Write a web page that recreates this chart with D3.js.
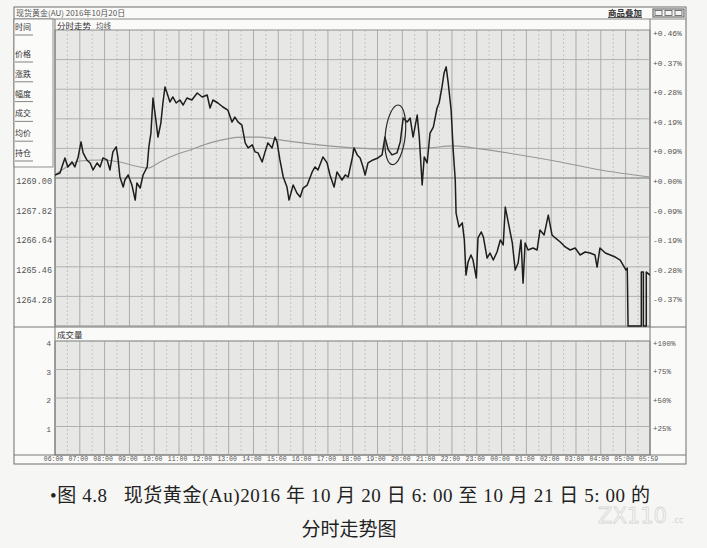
<!DOCTYPE html>
<html><head><meta charset="utf-8">
<script src="https://cdn.jsdelivr.net/npm/d3@7"></script>
<style>
body{margin:0;background:#f6f6f4;}
svg{display:block;}
</style></head><body>
<svg id="c" width="707" height="548"></svg>
<script>
// ---------- data ----------
// minutes elapsed since 06:00 on 2016-10-20
const minutes = [0,12,24,31,41,48,56,63,68,77,85,92,102,109,116,126,133,140,148,152,157,165,169,177,186,194,198,206,213,223,227,232,237,244,249,256,261,266,271,278,285,293,302,310,319,331,344,356,368,375,382,394,406,418,428,435,443,452,460,467,477,484,491,501,508,515,525,532,537,544,552,561,566,576,585,593,600,610,622,629,636,648,658,665,675,682,694,702,709,719,723,731,738,745,750,757,769,781,791,798,806,815,827,835,842,852,859,866,876,881,888,893,900,907,915,924,929,936,941,946,951,958,963,968,970,977,985,990,994,999,1006,1011,1019,1023,1031,1036,1045,1052,1060,1069,1077,1084,1089,1096,1106,1113,1120,1127,1132,1137,1144,1156,1166,1173,1183,1193,1202,1210,1222,1234,1246,1258,1270,1282,1294,1306,1311,1318,1331,1343,1355,1367,1374,1381,1384,1386,1418,1418,1423,1423,1430,1430,1439];
const prices = [1269.12,1269.20,1269.80,1269.44,1269.64,1269.44,1269.84,1270.44,1270.00,1269.72,1269.60,1269.32,1269.60,1269.44,1269.80,1269.72,1269.32,1270.04,1270.24,1269.84,1269.04,1268.64,1268.92,1269.12,1268.72,1268.12,1268.80,1268.60,1269.12,1269.44,1270.24,1270.79,1272.19,1271.31,1270.63,1271.19,1271.99,1272.63,1272.39,1272.03,1272.23,1271.99,1272.11,1271.91,1272.19,1272.11,1272.39,1272.23,1272.31,1271.79,1272.11,1271.99,1271.83,1271.71,1271.23,1271.43,1271.23,1271.11,1270.40,1270.20,1270.32,1270.04,1270.00,1269.64,1270.04,1270.40,1270.20,1270.63,1270.44,1269.72,1269.04,1268.64,1268.12,1268.72,1268.40,1268.24,1268.60,1268.72,1269.24,1269.44,1269.32,1269.84,1269.60,1269.12,1268.64,1269.24,1268.92,1269.12,1269.04,1269.80,1270.20,1269.92,1269.80,1269.44,1269.12,1269.60,1269.72,1269.80,1269.92,1270.63,1270.12,1269.92,1270.00,1270.44,1271.39,1271.23,1271.39,1270.63,1271.51,1270.63,1268.72,1269.84,1269.60,1270.79,1271.03,1271.79,1271.99,1272.63,1273.19,1273.43,1272.79,1271.71,1270.12,1268.92,1267.60,1267.05,1267.21,1266.53,1265.13,1265.65,1265.93,1265.73,1265.01,1266.61,1266.85,1266.65,1265.81,1266.01,1265.73,1266.05,1266.53,1266.33,1267.84,1267.25,1266.41,1265.33,1265.61,1266.53,1264.81,1266.41,1266.13,1266.21,1266.13,1266.93,1266.73,1267.52,1266.73,1266.61,1266.45,1266.25,1266.13,1266.21,1265.93,1266.05,1266.01,1265.93,1265.45,1266.21,1266.01,1265.93,1265.85,1265.73,1265.53,1265.33,1265.41,1263.10,1263.10,1265.25,1265.25,1263.10,1263.10,1265.25,1265.13];
const avgMinutes = [0,24,60,109,157,194,225,254,290,327,375,455,496,544,617,690,786,859,907,963,1028,1125,1222,1319,1439];
const avgPrices = [1269.12,1269.40,1269.68,1269.72,1269.64,1269.48,1269.40,1269.64,1269.92,1270.12,1270.40,1270.63,1270.63,1270.52,1270.36,1270.24,1270.16,1270.16,1270.20,1270.28,1270.16,1269.92,1269.64,1269.32,1269.04];

const timeTicks = [0,60,120,180,240,300,360,420,480,540,600,660,720,780,840,900,960,1020,1080,1140,1200,1260,1320,1380,1439];
const timeLabels = ["06:00","07:00","08:00","09:00","10:00","11:00","12:00","13:00","14:00","15:00","16:00","17:00","18:00","19:00","20:00","21:00","22:00","23:00","00:00","01:00","02:00","03:00","04:00","05:00","05:59"];
const priceLevels = [1274.90,1273.72,1272.54,1271.36,1270.18,1269.00,1267.82,1266.64,1265.46,1264.28];
const pctLabels = ["+0.46%","+0.37%","+0.28%","+0.19%","+0.09%","+0.00%","-0.09%","-0.19%","-0.28%","-0.37%"];
const leftPriceTicks = [1269.00,1267.82,1266.64,1265.46,1264.28];
const leftPriceLabels = ["1269.00","1267.82","1266.64","1265.46","1264.28"];
const volTicks = [1,2,3,4];
const volPctLabels = ["+25%","+50%","+75%","+100%"];
const sideItems = ["时间","价格","涨跌","幅度","成交","均价","持仓"];
const noteEllipse = {minute: 823, price: 1270.72};

// ---------- layout ----------
const W = 707, H = 548;
const F = {l:14, r:686, t:7, b:464};
const P = {l:55, r:650, top:30, bottom:326};
const V = {top:341, bottom:455};
const mono = "'Liberation Mono','DejaVu Sans Mono',monospace";
const cjk = "'Noto Sans CJK SC','Noto Sans',sans-serif";

const svg = d3.select("#c");
svg.append("rect").attr("width",W).attr("height",H).attr("fill","#f6f6f4");

const x = d3.scaleLinear().domain([0,1439]).range([P.l,P.r]);
const y = d3.scaleLinear().domain([1263.10,1274.90]).range([P.bottom,P.top]);
const yv = d3.scaleLinear().domain([0,4]).range([V.bottom,V.top]);

// outer frame
svg.append("rect").attr("x",F.l).attr("y",F.t).attr("width",F.r-F.l).attr("height",F.b-F.t)
  .attr("fill","#fafaf9").attr("stroke","#6f6f6f").attr("stroke-width",1);
svg.append("line").attr("x1",F.l).attr("x2",F.r).attr("y1",19).attr("y2",19).attr("stroke","#8a8a8a");

// title bar
svg.append("text").attr("x",16).attr("y",16).attr("font-family",cjk).attr("font-size",8)
  .attr("fill","#555").text("现货黄金(AU) 2016年10月20日");
svg.append("text").attr("x",608).attr("y",16).attr("font-family",cjk).attr("font-size",8.5)
  .attr("font-weight","bold").attr("fill","#333").text("商品叠加");
svg.append("line").attr("x1",608).attr("x2",642).attr("y1",17.5).attr("y2",17.5).attr("stroke","#555");
svg.append("rect").attr("x",653).attr("y",9).attr("width",31).attr("height",8).attr("fill","#f3f3f3").attr("stroke","#555");
[0,1,2].forEach(i=>{
  svg.append("rect").attr("x",655+i*10).attr("y",10.5).attr("width",7).attr("height",5)
    .attr("fill","none").attr("stroke","#555").attr("stroke-width",0.8);
});

// plot backgrounds
svg.append("rect").attr("x",P.l).attr("y",P.top).attr("width",P.r-P.l).attr("height",P.bottom-P.top)
  .attr("fill","#e7e7e5").attr("stroke","#777").attr("stroke-width",0.8);
svg.append("rect").attr("x",P.l).attr("y",V.top).attr("width",P.r-P.l).attr("height",V.bottom-V.top)
  .attr("fill","#e7e7e5").attr("stroke","#777").attr("stroke-width",0.8);
svg.append("line").attr("x1",F.l).attr("x2",F.r).attr("y1",P.bottom+1).attr("y2",P.bottom+1).attr("stroke","#777");
svg.append("line").attr("x1",F.l).attr("x2",F.r).attr("y1",V.bottom).attr("y2",V.bottom).attr("stroke","#777");
svg.append("line").attr("x1",P.l).attr("x2",P.l).attr("y1",19).attr("y2",V.bottom).attr("stroke","#777");
svg.append("line").attr("x1",P.r).attr("x2",P.r).attr("y1",19).attr("y2",V.bottom).attr("stroke","#777");

// header texts
svg.append("text").attr("x",57).attr("y",28.5).attr("font-family",cjk).attr("font-size",8.5).attr("fill","#333").text("分时走势");
svg.append("text").attr("x",96).attr("y",28.5).attr("font-family",cjk).attr("font-size",7.5).attr("fill","#555").text("均线");
svg.append("text").attr("x",57).attr("y",338).attr("font-family",cjk).attr("font-size",8.5).attr("fill","#333").text("成交量");

// grid
const grid = svg.append("g");
const halfHours = d3.range(30,1439,60);
[[P.top,P.bottom],[V.top,V.bottom]].forEach(([a,b])=>{
  grid.selectAll(null).data(halfHours).enter().append("line")
    .attr("x1",d=>x(d)).attr("x2",d=>x(d)).attr("y1",a).attr("y2",b)
    .attr("stroke","#b4b4b2").attr("stroke-width",0.7).attr("stroke-dasharray","2,2");
  grid.selectAll(null).data(timeTicks.slice(1,-1)).enter().append("line")
    .attr("x1",d=>x(d)).attr("x2",d=>x(d)).attr("y1",a).attr("y2",b)
    .attr("stroke","#9c9c9a").attr("stroke-width",0.8);
});
grid.selectAll(null).data(priceLevels.slice(1)).enter().append("line")
  .attr("x1",P.l).attr("x2",P.r).attr("y1",d=>y(d)).attr("y2",d=>y(d))
  .attr("stroke",d=>d===1269.00?"#777":"#a4a4a2").attr("stroke-width",d=>d===1269.00?1.1:0.8);
grid.selectAll(null).data(volTicks).enter().append("line")
  .attr("x1",P.l).attr("x2",P.r).attr("y1",d=>yv(d)).attr("y2",d=>yv(d))
  .attr("stroke","#a4a4a2").attr("stroke-width",0.8);

// axes
function styleAxis(g, size, fam){
  g.select(".domain").remove();
  g.selectAll("text").attr("font-family",fam).attr("font-size",size).attr("fill","#555");
}
const ga = svg.append("g").attr("transform",`translate(${P.l-1},3)`)
  .call(d3.axisLeft(y).tickValues(leftPriceTicks).tickSize(0).tickPadding(2)
  .tickFormat((d,i)=>leftPriceLabels[i]));
styleAxis(ga,8.5,mono);
const gr = svg.append("g").attr("transform",`translate(${P.r+1},3)`)
  .call(d3.axisRight(y).tickValues(priceLevels).tickSize(0).tickPadding(2)
  .tickFormat((d,i)=>pctLabels[i]));
styleAxis(gr,8,mono);
const gvl = svg.append("g").attr("transform",`translate(${P.l-1},2)`)
  .call(d3.axisLeft(yv).tickValues(volTicks).tickSize(0).tickPadding(3)
  .tickFormat((d,i)=>String(volTicks[i])));
styleAxis(gvl,8,mono);
const gvr = svg.append("g").attr("transform",`translate(${P.r+1},2)`)
  .call(d3.axisRight(yv).tickValues(volTicks).tickSize(0).tickPadding(2)
  .tickFormat((d,i)=>volPctLabels[i]));
styleAxis(gvr,7.5,mono);
const gt = svg.append("g").attr("transform",`translate(-2,${V.bottom})`)
  .call(d3.axisBottom(x).tickValues(timeTicks).tickSize(0).tickPadding(1)
  .tickFormat((d,i)=>timeLabels[i]));
styleAxis(gt,6.5,mono);

// left side panel
svg.append("rect").attr("x",F.l).attr("y",19).attr("width",53-F.l).attr("height",167-19)
  .attr("fill","#fbfbfa").attr("stroke","#777").attr("stroke-width",0.8);
sideItems.forEach((t,i)=>{
  const cy = i===0 ? 27 : 54 + (i-1)*19.8;
  svg.append("text").attr("x",15).attr("y",cy+3).attr("font-family",cjk).attr("font-size",8)
    .attr("fill","#333").text(t);
  svg.append("line").attr("x1",15).attr("x2",33).attr("y1",cy+8).attr("y2",cy+8)
    .attr("stroke","#666").attr("stroke-width",0.8);
});

// lines
svg.append("clipPath").attr("id","clip").append("rect")
  .attr("x",P.l).attr("y",P.top).attr("width",P.r-P.l).attr("height",P.bottom-P.top+1);
const plot = svg.append("g").attr("clip-path","url(#clip)");
const avgData = avgMinutes.map((m,i)=>({m, p:avgPrices[i]}));
plot.append("path").datum(avgData)
  .attr("d",d3.line().x(d=>x(d.m)).y(d=>y(d.p)).curve(d3.curveMonotoneX))
  .attr("fill","none").attr("stroke","#989896").attr("stroke-width",1.1);
const priceData = minutes.map((m,i)=>({m, p:prices[i]}));
plot.append("path").datum(priceData)
  .attr("d",d3.line().x(d=>x(d.m)).y(d=>y(d.p)))
  .attr("fill","none").attr("stroke","#1e1e1e").attr("stroke-width",1.5).attr("stroke-linejoin","round");

// annotation ellipse
const ex = x(noteEllipse.minute), ey = y(noteEllipse.price);
svg.append("ellipse").attr("cx",ex).attr("cy",ey).attr("rx",10).attr("ry",30)
  .attr("transform",`rotate(6,${ex},${ey})`)
  .attr("fill","none").attr("stroke","#2a2a2a").attr("stroke-width",1.2);

// caption
const serif = "'Liberation Serif','Noto Sans CJK SC',serif";
svg.append("text").attr("x",50).attr("y",502).attr("font-family",serif).attr("font-size",19)
  .attr("fill","#222").attr("textLength",600).attr("lengthAdjust","spacing")
  .text("•图 4.8\u00A0\u00A0\u00A0现货黄金(Au)2016 年 10 月 20 日 6: 00 至 10 月 21 日 5: 00 的");
svg.append("text").attr("x",349).attr("y",536).attr("text-anchor","middle").attr("font-family",serif)
  .attr("font-size",19).attr("fill","#222").text("分时走势图");

// watermark
svg.append("text").attr("x",598).attr("y",523).attr("font-family","'DejaVu Sans',sans-serif")
  .attr("font-size",21).attr("fill","#fbfbfb").attr("stroke","#d6d6d6").attr("stroke-width",0.8).text("ZX110");
svg.append("text").attr("x",672).attr("y",523).attr("font-family","'DejaVu Sans',sans-serif")
  .attr("font-size",8).attr("fill","#d0d0d0").text(".cc");
</script>
</body></html>
